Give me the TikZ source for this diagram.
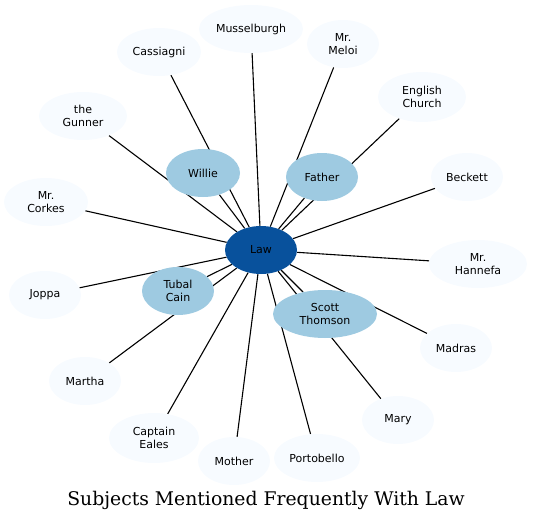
\documentclass[tikz,border=0pt]{standalone}
\usepackage{fontspec}
\setmainfont{DejaVu Serif}
\setsansfont{DejaVu Sans}
\usetikzlibrary{shapes.geometric, backgrounds}

\begin{document}
\begin{tikzpicture}[x=1pt, y=-1pt,
    subject/.style={ellipse, inner sep=0pt, minimum height=48pt, minimum width=72pt,
        align=center, text=black, font=\sffamily\fontsize{11}{12.5}\selectfont},
    outer/.style={subject, fill=outerColour},
    inner/.style={subject, fill=innerColour},
    link/.style={black, line width=1.1pt}]
    % Define colors
    \definecolor{centreColour}{HTML}{08519C}
    \definecolor{innerColour}{HTML}{9ECAE1}
    \definecolor{outerColour}{HTML}{F7FBFF}

    % Fix the page size
    \useasboundingbox (0,0) rectangle (533,522);

    % Central node
    \node[subject, fill=centreColour] (law) at (261,250) {Law};

    % Inner ring
    \node[inner, minimum width=74pt] (willie) at (203,173) {Willie};
    \node[inner] (father) at (322,177) {Father};
    \node[inner] (tubal) at (178,291) {Tubal\\Cain};
    \node[inner, minimum width=104pt] (scott) at (325,314) {Scott\\Thomson};

    % Outer ring
    \node[outer, minimum width=104pt] (mussel) at (251,29) {Musselburgh};
    \node[outer, minimum width=84pt] (cassiagni) at (159,52) {Cassiagni};
    \node[outer] (meloi) at (343,44) {Mr.\\Meloi};
    \node[outer, minimum width=88pt, minimum height=50pt] (church) at (422,97) {English\\Church};
    \node[outer, minimum width=88pt] (gunner) at (83,116) {the\\Gunner};
    \node[outer] (beckett) at (467,177) {Beckett};
    \node[outer, minimum width=84pt] (corkes) at (46,202) {Mr.\\Corkes};
    \node[outer, minimum width=98pt] (hannefa) at (478,264) {Mr.\\Hannefa};
    \node[outer] (joppa) at (45,295) {Joppa};
    \node[outer] (madras) at (456,348) {Madras};
    \node[outer] (martha) at (85,381) {Martha};
    \node[outer] (mary) at (398,420) {Mary};
    \node[outer, minimum width=90pt, minimum height=50pt] (eales) at (154,438) {Captain\\Eales};
    \node[outer] (mother) at (234,461) {Mother};
    \node[outer, minimum width=86pt] (porto) at (317,458) {Portobello};

    % Draw links behind the nodes
    \begin{scope}[on background layer]
        \foreach \n in {willie, father, tubal, scott, mussel, cassiagni, meloi, church,
                        gunner, beckett, corkes, hannefa, joppa, madras, martha, mary,
                        eales, mother, porto}
            \draw[link] (law) -- (\n);
    \end{scope}

    % Title
    \node[font=\rmfamily\fontsize{18.8}{22}\selectfont] (title) at (266,500)
        {Subjects Mentioned Frequently With Law};
\end{tikzpicture}
\end{document}
